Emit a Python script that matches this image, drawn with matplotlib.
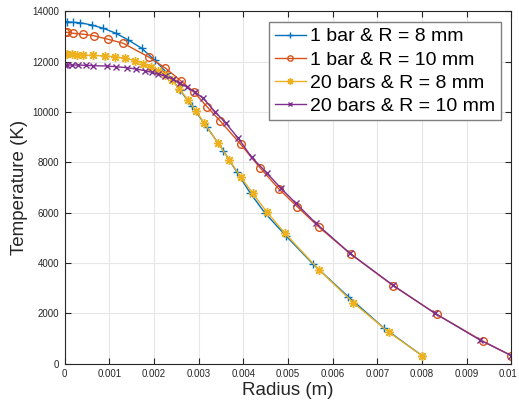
import matplotlib
matplotlib.use("Agg")
import matplotlib.pyplot as plt
import matplotlib.transforms as mtransforms

plt.rcParams['font.family'] = ['Liberation Sans', 'DejaVu Sans']

# 1 bar, R = 8 mm
r_1bar_8 = [0.0, 0.00006, 0.000181, 0.000345, 0.000606, 0.000866, 0.00115, 0.001425,
            0.001725, 0.002022, 0.002298, 0.002582, 0.002843, 0.003186, 0.00355,
            0.00385, 0.004148, 0.004483, 0.004953, 0.005564, 0.006347, 0.007145, 0.008]
T_1bar_8 = [13588, 13588, 13564, 13548, 13457, 13326, 13127, 12861,
            12531, 12054, 11538, 10874, 10240, 9400, 8470,
            7628, 6794, 5987, 5080, 3949, 2662, 1418, 318]

# 1 bar, R = 10 mm
r_1bar_10 = [0.0, 0.000047, 0.000195, 0.000418, 0.000653, 0.000978, 0.001313, 0.001895,
             0.002253, 0.002597, 0.002895, 0.003186, 0.003477, 0.00394, 0.004371,
             0.004803, 0.005206, 0.005698, 0.0064, 0.007353, 0.008324, 0.009353, 0.01]
T_1bar_10 = [13167, 13167, 13127, 13091, 13031, 12888, 12730, 12173,
             11748, 11244, 10795, 10211, 9654, 8717, 7787,
             6929, 6238, 5419, 4358, 3099, 1963, 902, 318]

# 20 bars, R = 8 mm
r_20bar_8 = [0.0, 0.00006, 0.000159, 0.000271, 0.000418, 0.000629, 0.000904, 0.001128,
             0.001351, 0.001575, 0.001754, 0.001933, 0.002089, 0.002246, 0.002402,
             0.002566, 0.002767, 0.00294, 0.003119, 0.003438, 0.003685, 0.003946,
             0.004208, 0.004521, 0.004931, 0.005698, 0.006459, 0.007257, 0.008]
T_20bar_8 = [12304, 12304, 12292, 12276, 12265, 12253, 12225, 12197,
             12133, 12046, 11927, 11788, 11629, 11470, 11271,
             10914, 10477, 10040, 9575, 8757, 8093, 7406,
             6770, 6039, 5181, 3723, 2424, 1248, 318]

# 20 bars, R = 10 mm
r_20bar_10 = [0.0, 0.000047, 0.000159, 0.000306, 0.000479, 0.000642, 0.000942, 0.00115,
              0.001389, 0.001597, 0.001799, 0.001949, 0.002096, 0.002246, 0.002432,
              0.002582, 0.002745, 0.002917, 0.003103, 0.003365, 0.003611, 0.003886,
              0.004186, 0.004521, 0.004841, 0.005177, 0.005624, 0.006385, 0.00734,
              0.008286, 0.009293, 0.01]
T_20bar_10 = [11867, 11867, 11867, 11867, 11855, 11840, 11828, 11800,
              11760, 11708, 11641, 11577, 11510, 11430, 11300,
              11140, 10981, 10783, 10544, 10012, 9551, 8955,
              8200, 7588, 6969, 6373, 5578, 4386, 3127,
              2002, 942, 318]

labels = ['1 bar & R = 8 mm', '1 bar & R = 10 mm', '20 bars & R = 8 mm', '20 bars & R = 10 mm']
x_ticks = [0, 0.001, 0.002, 0.003, 0.004, 0.005, 0.006, 0.007, 0.008, 0.009, 0.01]
x_tick_labels = ['0', '0.001', '0.002', '0.003', '0.004', '0.005', '0.006', '0.007', '0.008', '0.009', '0.01']
y_ticks = [0, 2000, 4000, 6000, 8000, 10000, 12000, 14000]

fig = plt.figure(figsize=(5.19, 4.05), dpi=100)
ax = fig.add_axes([0.1245, 0.102, 0.861, 0.870])

# matlab style asterisk = plus and cross on top of each other
asterisk = (8, 2, 0)

ax.plot(r_1bar_8, T_1bar_8, color='#0072BD', lw=1.0, marker='+', ms=6, mew=1.0, label=labels[0])
ax.plot(r_1bar_10, T_1bar_10, color='#D95319', lw=1.0, marker='o', ms=5.5, mew=1.0,
        mfc='none', label=labels[1])
ax.plot(r_20bar_8, T_20bar_8, color='#EDB120', lw=1.0, marker=asterisk, ms=6.5, mew=1.0, label=labels[2])
ax.plot(r_20bar_10, T_20bar_10, color='#7E2F8E', lw=1.0, marker='x', ms=5, mew=1.0, label=labels[3])

ax.set_xlim(0, 0.01)
ax.set_ylim(0, 14000)
ax.set_xticks(x_ticks)
ax.set_xticklabels(x_tick_labels)
ax.set_yticks(y_ticks)

ax.grid(True, color='#e6e6e6', lw=0.8)
ax.set_axisbelow(True)
ax.tick_params(direction='in', length=4, width=0.8, top=True, right=True,
               labelsize=7, colors='#262626', pad=4)
for sp in ax.spines.values():
    sp.set_color('#262626')
    sp.set_linewidth(0.8)

# last x label sits at the figure edge, nudge it in a little
last = ax.get_xticklabels()[-1]
last.set_transform(last.get_transform() + mtransforms.ScaledTranslation(-3 / 100, 0, fig.dpi_scale_trans))

ax.set_xlabel('Radius (m)', fontsize=13.5, color='#262626', labelpad=2)
ax.set_ylabel('Temperature (K)', fontsize=13.5, color='#262626', labelpad=3)

leg = ax.legend(loc='upper right', fontsize=14, frameon=True, fancybox=False,
                handlelength=1.6, handletextpad=0.2, labelspacing=0.28,
                borderpad=0.3, borderaxespad=0.55, markerscale=0.7)
leg.get_frame().set_edgecolor('#7f7f7f')
leg.get_frame().set_linewidth(1.0)
leg.get_frame().set_alpha(1.0)

fig.savefig('out.png', dpi=100)
